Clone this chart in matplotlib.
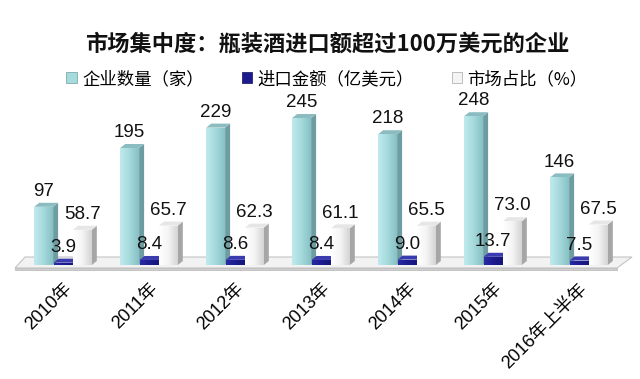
import matplotlib.pyplot as plt
import numpy as np
from matplotlib.patches import Polygon, Patch
from matplotlib.colors import LinearSegmentedColormap

plt.rcParams['font.family'] = ['Liberation Sans', 'Noto Sans CJK SC', 'DejaVu Sans']

years = ['2010年', '2011年', '2012年', '2013年', '2014年', '2015年', '2016年上半年']
companies = [97, 195, 229, 245, 218, 248, 146]
imports = [3.9, 8.4, 8.6, 8.4, 9.0, 13.7, 7.5]
share = [58.7, 65.7, 62.3, 61.1, 65.5, 73.0, 67.5]
series_names = ['企业数量（家）', '进口金额（亿美元）', '市场占比（%）']

# colours per series: gradient left->right, side face, top face
styles = [
    dict(grad=['#bfeaed', '#a6dadd', '#86c1c5'], side='#6e9da1', top='#8bbcbf'),
    dict(grad=['#2a2aa6', '#1c1c8e', '#15157a'], side='#0e0e55', top='#3b3bb0'),
    dict(grad=['#ffffff', '#f4f4f4', '#d4d4d4'], side='#a6a6a6', top='#e6e6e6'),
]

W, H = 640, 379
fig = plt.figure(figsize=(6.4, 3.79), dpi=100)
ax = fig.add_axes([15 / W, 1 - 272 / H, 602 / W, 172 / H])
ax.set_facecolor('none')


def px(x, y):
    return (x / W, 1 - y / H)


# floor
floor_top = [px(15, 268), px(617, 268), px(632, 257), px(25, 257)]
ax.add_patch(Polygon(floor_top, closed=True, transform=fig.transFigure, clip_on=False,
                     facecolor='#f2f2f2', edgecolor='#c4c4c4', lw=0.8, zorder=1))
floor_edge = [px(15, 268), px(617, 268), px(617, 270), px(15, 270)]
ax.add_patch(Polygon(floor_edge, closed=True, transform=fig.transFigure, clip_on=False,
                     facecolor='#d0d0d0', edgecolor='#bdbdbd', lw=0.6, zorder=1))

offsets = [-0.225, 0.0, 0.225]
w = 0.22
dx = 5 / 86
dy = 4 / 0.6
grad = np.linspace(0, 1, 64).reshape(1, -1)

z = 2
for j in range(len(years)):
    for i, vals in enumerate([companies, imports, share]):
        st = styles[i]
        h = vals[j]
        x0 = j + offsets[i] - w / 2
        x1 = x0 + w
        z += 1
        side = Polygon([(x1, 0), (x1 + dx, dy), (x1 + dx, h + dy), (x1, h)],
                       facecolor=st['side'], edgecolor='none', zorder=z)
        ax.add_patch(side)
        top = Polygon([(x0, h), (x1, h), (x1 + dx, h + dy), (x0 + dx, h + dy)],
                      facecolor=st['top'], edgecolor='none', zorder=z)
        ax.add_patch(top)
        bar = ax.bar(x0, h, width=w, align='edge', color=st['grad'][1],
                     edgecolor='none', zorder=z)[0]
        cmap = LinearSegmentedColormap.from_list('g%d' % i, st['grad'])
        im = ax.imshow(grad, cmap=cmap, extent=[x0, x1, 0, h], aspect='auto',
                       zorder=z, interpolation='bilinear')
        im.set_clip_path(bar)

for j in range(len(years)):
    for i, vals in enumerate([companies, imports, share]):
        xc = j + offsets[i]
        v = vals[j]
        txt = str(v) if i == 0 else '%.1f' % v
        ax.annotate(txt, xy=(xc, v), xytext=(0, 11), textcoords='offset points',
                    ha='center', va='center', fontsize=13.5, color='#111111', zorder=100)

ax.set_xlim((15 - 63) / 86, (617 - 63) / 86)
ax.set_ylim(-7 / 0.6, 165 / 0.6)
ax.set_xticks(range(len(years)))
ax.set_xticklabels(years, rotation=45, ha='right', va='top', rotation_mode='anchor',
                   fontsize=13)
ax.tick_params(axis='x', length=0, pad=6)
ax.set_yticks([])
for s in ax.spines.values():
    s.set_visible(False)

fig.text(327 / W, 1 - 44 / H, '市场集中度：瓶装酒进口额超过100万美元的企业',
         ha='center', va='center', fontsize=16, fontweight='bold',
         family=['Noto Sans CJK SC', 'DejaVu Sans'], color='#111111')

handles = [Patch(facecolor=styles[k]['grad'][1], edgecolor=styles[k]['side'], lw=0.5)
           for k in range(3)]
fig.legend(handles, series_names, loc='center', bbox_to_anchor=(327 / W, 1 - 79 / H),
           ncol=3, frameon=False, handlelength=0.6, handleheight=0.6,
           handletextpad=0.3, columnspacing=2.2,
           prop={'family': ['Noto Sans CJK SC', 'DejaVu Sans'], 'size': 12.5})

fig.savefig('out.png', dpi=100)
